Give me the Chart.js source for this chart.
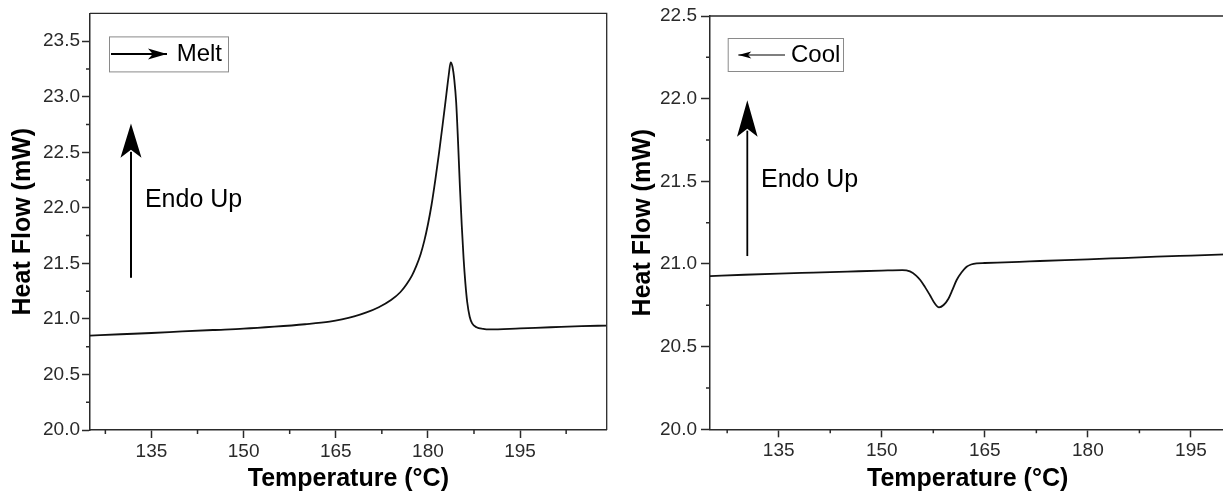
<!DOCTYPE html>
<html>
<head>
<meta charset="utf-8">
<script src="https://cdn.jsdelivr.net/npm/chart.js@4.4.1/dist/chart.umd.min.js"></script>
<style>
html,body{margin:0;padding:0;background:#fff;overflow:hidden;width:1223px;height:493px;}
canvas{position:absolute;top:0;}
#c1{left:0;}
#c2{left:612px;}
</style>
</head>
<body>
<canvas id="c1" width="612" height="493"></canvas>
<canvas id="c2" width="628" height="493"></canvas>
<script>
// ---------- DATA ----------
const meltTemp = [125,130,135,140,145,150,155,160,164,166,168,170,172,174,175.5,176.5,177.4,178.1,178.8,179.4,180.0,180.6,181.2,181.8,182.4,183.0,183.4,183.7,184.0,184.3,184.6,184.9,185.2,185.5,185.8,186.1,186.4,186.8,187.2,187.9,189,190,195,200,205,209.1];
const meltFlow = [20.85,20.862,20.873,20.887,20.90,20.912,20.93,20.952,20.975,20.995,21.022,21.058,21.105,21.17,21.24,21.31,21.39,21.475,21.58,21.70,21.85,22.03,22.25,22.49,22.75,23.02,23.2,23.31,23.27,23.15,22.95,22.6,22.2,21.85,21.55,21.32,21.15,21.02,20.96,20.925,20.91,20.905,20.915,20.925,20.935,20.94];

const coolTemp = [125,130,135,140,145,150,153,154.1,155,155.6,156.3,157.0,157.7,158.33,159.0,159.7,160.3,160.9,161.6,162.35,163.0,163.8,165,170,173,180,185,190,195,200];
const coolFlow = [20.927,20.935,20.942,20.948,20.954,20.96,20.963,20.955,20.93,20.903,20.86,20.812,20.762,20.738,20.752,20.79,20.845,20.903,20.948,20.983,20.997,21.004,21.006,21.013,21.018,21.028,21.036,21.044,21.051,21.058];

const xTickValues = [135,150,165,180,195];
const xMinorValues = [127.5,142.5,157.5,172.5,187.5,202.5];
const leftYTicks = [20.0,20.5,21.0,21.5,22.0,22.5,23.0,23.5];
const leftYMinor = [20.25,20.75,21.25,21.75,22.25,22.75,23.25];
const rightYTicks = [20.0,20.5,21.0,21.5,22.0,22.5];
const rightYMinor = [20.25,20.75,21.25,21.75,22.25];

const xTitle = 'Temperature (°C)';
const yTitle = 'Heat Flow (mW)';
const meltLabel = 'Melt';
const coolLabel = 'Cool';
const endoLabel = 'Endo Up';

// ---------- STYLE ----------
const FONT = '"Liberation Sans", Arial, sans-serif';
const AX = '#2a2a2a';

const decor = {
  id: 'decor',
  afterDraw(chart, args, o) {
    const {ctx, chartArea: ca, scales: {x, y}} = chart;
    ctx.save();
    // frame (top & right)
    ctx.strokeStyle = AX; ctx.lineWidth = 1.3;
    ctx.beginPath();
    ctx.moveTo(ca.left, ca.top); ctx.lineTo(ca.right, ca.top); ctx.lineTo(ca.right, ca.bottom);
    ctx.stroke();
    // minor ticks
    ctx.lineWidth = 1.5;
    ctx.beginPath();
    o.minorX.forEach(v => { const p = x.getPixelForValue(v); ctx.moveTo(p, ca.bottom); ctx.lineTo(p, ca.bottom + 4); });
    o.minorY.forEach(v => { const p = y.getPixelForValue(v); ctx.moveTo(ca.left, p); ctx.lineTo(ca.left - 4, p); });
    ctx.stroke();
    // legend box
    const L = o.legend;
    const bx = ca.left + L.dx, by = ca.top + L.dy;
    ctx.strokeStyle = '#8a8a8a'; ctx.lineWidth = 1;
    ctx.strokeRect(bx + 0.5, by + 0.5, L.w, L.h);
    const ay = by + L.ay;
    ctx.strokeStyle = '#000'; ctx.fillStyle = '#000'; ctx.lineWidth = L.lw;
    ctx.beginPath(); ctx.moveTo(bx + L.x0, ay); ctx.lineTo(bx + L.x1, ay); ctx.stroke();
    const tipX = L.dir > 0 ? bx + L.x1 : bx + L.x0;
    ctx.beginPath();
    ctx.moveTo(tipX, ay);
    ctx.lineTo(tipX - L.dir * L.hl, ay - L.hw);
    ctx.lineTo(tipX - L.dir * L.hl * 0.75, ay);
    ctx.lineTo(tipX - L.dir * L.hl, ay + L.hw);
    ctx.closePath(); ctx.fill();
    ctx.font = L.fontSize + 'px ' + FONT;
    ctx.textBaseline = 'middle'; ctx.textAlign = 'left';
    ctx.fillText(L.text, bx + L.tx, ay + 0.5);
    // Endo Up arrow
    const E = o.endo;
    const ex = x.getPixelForValue(E.x);
    const eTip = y.getPixelForValue(E.tip), eBase = y.getPixelForValue(E.base), eBot = y.getPixelForValue(E.bottom);
    ctx.lineWidth = E.lw;
    ctx.beginPath(); ctx.moveTo(ex, eBot); ctx.lineTo(ex, eBase - 6); ctx.stroke();
    ctx.beginPath();
    ctx.moveTo(ex, eTip);
    ctx.lineTo(ex - E.hw, eBase);
    ctx.lineTo(ex, eBase - 8);
    ctx.lineTo(ex + E.hw, eBase);
    ctx.closePath(); ctx.fill();
    ctx.font = E.fontSize + 'px ' + FONT;
    ctx.fillText(E.text, x.getPixelForValue(E.tx), y.getPixelForValue(E.ty));
    ctx.restore();
  }
};

function makeChart(id, temps, flows, cfg) {
  return new Chart(document.getElementById(id), {
    type: 'line',
    data: {
      datasets: [{
        data: temps.map((t, i) => ({x: t, y: flows[i]})),
        borderColor: '#111',
        borderWidth: 1.8,
        pointRadius: 0,
        cubicInterpolationMode: 'monotone',
        fill: false
      }]
    },
    plugins: [decor],
    options: {
      responsive: false,
      animation: false,
      devicePixelRatio: 1,
      layout: {padding: cfg.padding},
      plugins: {
        legend: {display: false},
        tooltip: {enabled: false},
        decor: cfg.decor
      },
      scales: {
        x: {
          type: 'linear', min: cfg.xmin, max: cfg.xmax,
          afterBuildTicks: s => { s.ticks = xTickValues.map(v => ({value: v})); },
          afterFit: s => { s.height = cfg.xh; },
          ticks: {font: {family: FONT, size: 19}, color: '#2a2a2a', padding: 2, maxRotation: 0, autoSkip: false, callback: v => String(v)},
          grid: {drawOnChartArea: false, tickLength: 8, tickWidth: 1.5, tickColor: AX},
          border: {color: AX, width: 1.5},
          title: {display: true, text: xTitle, color: '#000', font: {family: FONT, size: 25, weight: 'bold', lineHeight: 1}, padding: {top: 0, bottom: 1}}
        },
        y: {
          type: 'linear', min: cfg.ymin, max: cfg.ymax,
          afterBuildTicks: s => { s.ticks = cfg.yTicks.map(v => ({value: v})); },
          afterFit: s => { s.width = cfg.yw; },
          ticks: {font: {family: FONT, size: 19}, color: '#2a2a2a', padding: cfg.ypad, autoSkip: false, callback: v => Number(v).toFixed(1)},
          grid: {drawOnChartArea: false, tickLength: cfg.ytl, tickWidth: 1.5, tickColor: AX},
          border: {color: AX, width: 1.5},
          title: {display: true, text: yTitle, color: '#000', font: {family: FONT, size: 25, weight: 'bold', lineHeight: 1}, padding: {top: cfg.ytitlePad, bottom: 0}}
        }
      }
    }
  });
}

makeChart('c1', meltTemp, meltFlow, {
  padding: {left: 0, right: 5.3, top: 11, bottom: 0},
  xmin: 125, xmax: 209.1, ymin: 20, ymax: 23.75,
  xh: 63, yw: 90, ypad: 2, ytl: 8, ytitlePad: 11.1,
  yTicks: leftYTicks,
  decor: {
    minorX: xMinorValues, minorY: leftYMinor,
    legend: {dx: 19, dy: 23, w: 119, h: 35, ay: 17.5, x0: 2, x1: 58, dir: 1, hl: 19, hw: 5.5, lw: 2, tx: 67.7, text: meltLabel, fontSize: 24},
    endo: {x: 131.67, tip: 22.76, base: 22.45, bottom: 21.37, hw: 10.5, lw: 2, tx: 133.94, ty: 22.07, text: endoLabel, fontSize: 25}
  }
});

makeChart('c2', coolTemp, coolFlow, {
  padding: {left: 0, right: 14.7, top: 16, bottom: 0},
  xmin: 125, xmax: 200, ymin: 20, ymax: 22.5,
  xh: 63.7, yw: 98, ypad: 4, ytl: 9, ytitlePad: 18.5,
  yTicks: rightYTicks,
  decor: {
    minorX: xMinorValues.filter(v => v < 200), minorY: rightYMinor,
    legend: {dx: 17.7, dy: 22, w: 115.3, h: 33, ay: 17, x0: 10.6, x1: 57.3, dir: -1, hl: 13, hw: 3.5, lw: 1.2, tx: 63.3, text: coolLabel, fontSize: 24},
    endo: {x: 130.43, tip: 21.99, base: 21.77, bottom: 21.048, hw: 10.3, lw: 1.8, tx: 132.42, ty: 21.51, text: endoLabel, fontSize: 25}
  }
});
</script>
</body>
</html>
